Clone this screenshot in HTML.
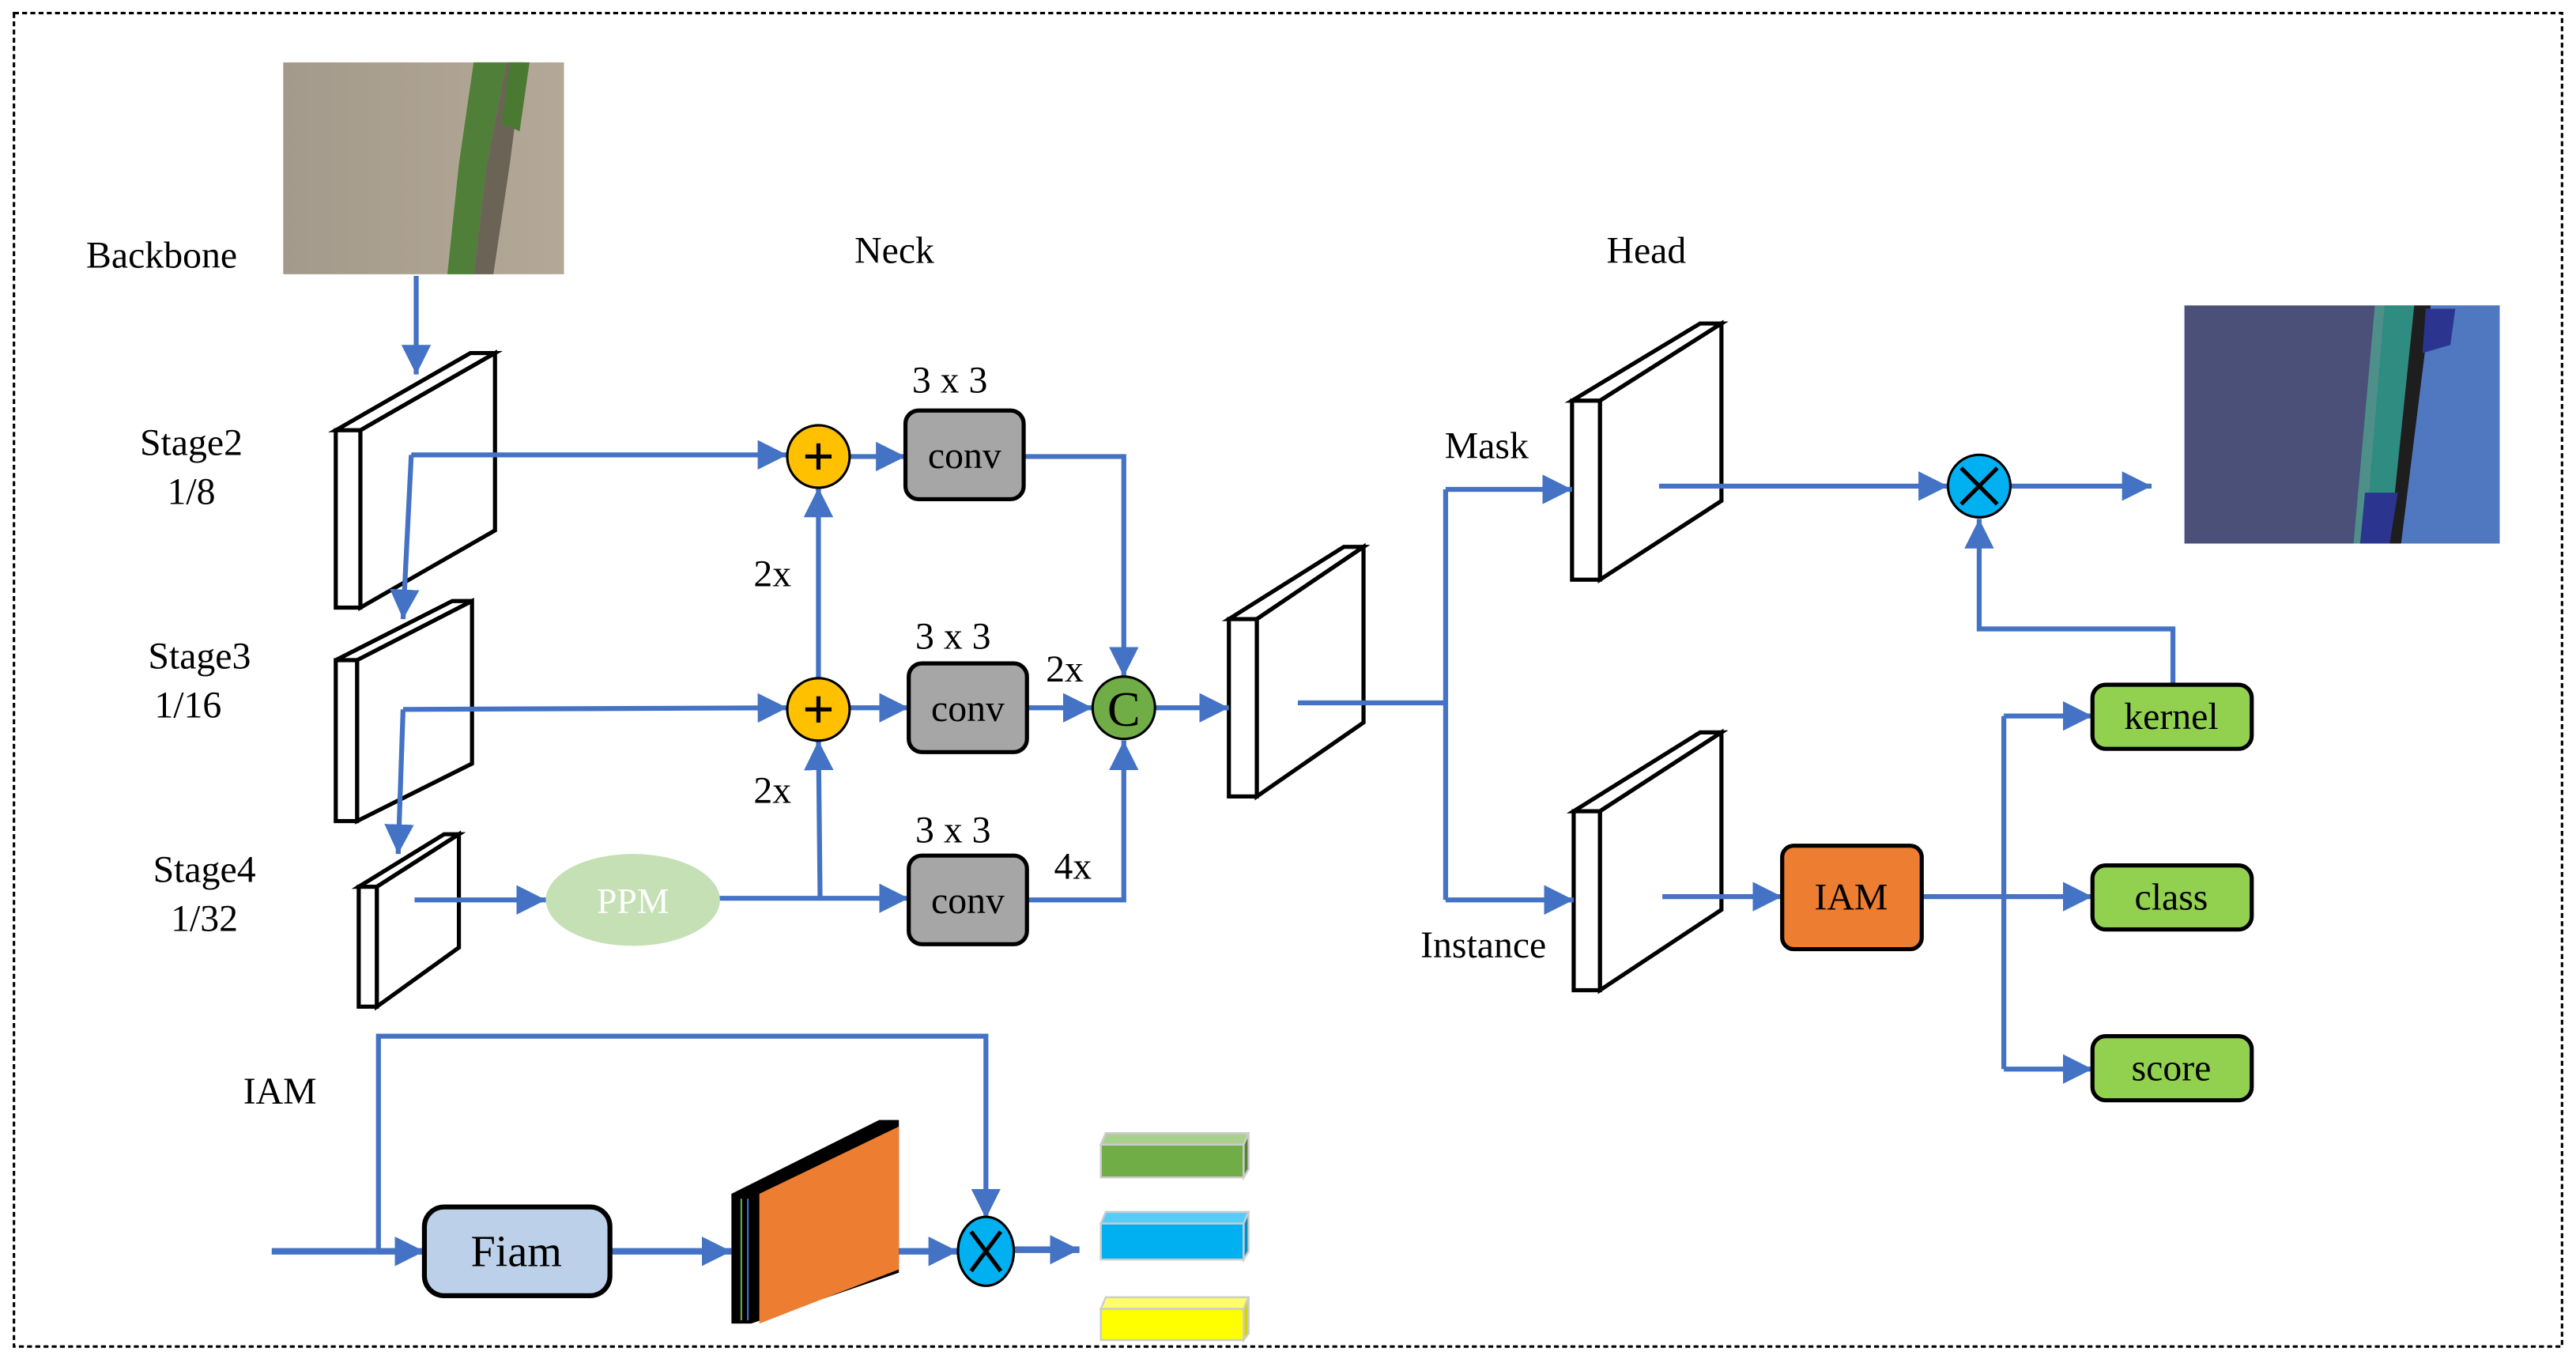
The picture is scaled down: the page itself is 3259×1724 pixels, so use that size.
<!DOCTYPE html>
<html><head><meta charset="utf-8"><style>
html,body{margin:0;padding:0;background:#fff;}
svg{display:block;}
text{font-family:"Liberation Serif",serif;fill:#000;}
</style></head><body>
<svg width="3259" height="1724" viewBox="0 0 1568 830" xmlns="http://www.w3.org/2000/svg">
<defs>
<marker id="a" markerUnits="userSpaceOnUse" markerWidth="20" markerHeight="20" refX="18" refY="9" orient="auto">
<path d="M0,0 L18,9 L0,18 Z" fill="#4472C4"/>
</marker>
<linearGradient id="g1" x1="0" x2="1">
<stop offset="0" stop-color="#a39a8c"/><stop offset="0.6" stop-color="#aea392"/><stop offset="1" stop-color="#b3a897"/>
</linearGradient>
</defs>
<rect x="8" y="8" width="1552" height="812" fill="none" stroke="#000" stroke-width="1.5" stroke-dasharray="3,2"/>

<!-- input image -->
<rect x="172" y="38" width="171" height="129" fill="url(#g1)"/>
<polygon points="288,38 308,38 296,100 288,167 272,167 279,100" fill="#4f7f38"/>
<polygon points="308,38 318,38 310,100 300,167 288,167 296,100" fill="#6b6456"/>
<polygon points="310,38 322,38 316,80 305,75" fill="#4a7a32"/>
<text x="52" y="163" font-size="23">Backbone</text>
<text x="520" y="160" font-size="23">Neck</text>
<text x="978" y="160" font-size="23">Head</text>

<g fill="none" stroke="#4472C4" stroke-width="3">
<line x1="253" y1="168" x2="253" y2="228" marker-end="url(#a)"/>
</g>

<!-- stage blocks -->
<g fill="#fff" stroke="#000" stroke-width="2.5" stroke-linejoin="miter">
<polygon points="204,262 286,215 301,215 219,262"/>
<polygon points="219,262 301,215 301,323 219,370"/>
<rect x="204" y="262" width="15" height="108"/>
<polygon points="204,402 275,366 287,366 217,402"/>
<polygon points="217,402 287,366 287,465 217,500"/>
<rect x="204" y="402" width="13" height="98"/>
<polygon points="218,540 270,508 279,508 229,540"/>
<polygon points="229,540 279,508 279,577 229,613"/>
<rect x="218" y="540" width="11" height="73"/>
<polygon points="748,377 818,333 830,333 765,377"/>
<polygon points="765,377 830,333 830,440 765,485"/>
<rect x="748" y="377" width="17" height="108"/>
<polygon points="957,244 1035,197 1048,197 974,244"/>
<polygon points="974,244 1048,197 1048,305 974,353"/>
<rect x="957" y="244" width="17" height="109"/>
<polygon points="958,494 1035,446 1048,446 974,494"/>
<polygon points="974,494 1048,446 1048,554 974,603"/>
<rect x="958" y="494" width="16" height="109"/>
</g>

<g font-size="23">
<text x="116" y="277" text-anchor="middle">Stage2</text>
<text x="116" y="307" text-anchor="middle">1/8</text>
<text x="121" y="407" text-anchor="middle">Stage3</text>
<text x="114" y="437" text-anchor="middle">1/16</text>
<text x="124" y="537" text-anchor="middle">Stage4</text>
<text x="124" y="567" text-anchor="middle">1/32</text>
<text x="578" y="239" text-anchor="middle">3 x 3</text>
<text x="580" y="395" text-anchor="middle">3 x 3</text>
<text x="580" y="513" text-anchor="middle">3 x 3</text>
<text x="470" y="357" text-anchor="middle">2x</text>
<text x="470" y="489" text-anchor="middle">2x</text>
<text x="648" y="415" text-anchor="middle">2x</text>
<text x="653" y="535" text-anchor="middle">4x</text>
<text x="905" y="279" text-anchor="middle">Mask</text>
<text x="903" y="583" text-anchor="middle">Instance</text>
<text x="170" y="672" text-anchor="middle">IAM</text>
</g>

<!-- connectors -->
<g fill="none" stroke="#4472C4" stroke-width="3">
<line x1="250" y1="277" x2="479" y2="277" marker-end="url(#a)"/>
<line x1="250" y1="277" x2="245" y2="377" marker-end="url(#a)"/>
<line x1="245" y1="432" x2="479" y2="431" marker-end="url(#a)"/>
<line x1="245" y1="432" x2="242" y2="520" marker-end="url(#a)"/>
<line x1="517" y1="278" x2="551" y2="278" marker-end="url(#a)"/>
<line x1="517" y1="431" x2="553" y2="431" marker-end="url(#a)"/>
<line x1="498" y1="413" x2="498" y2="297" marker-end="url(#a)"/>
<line x1="499" y1="547" x2="498" y2="451" marker-end="url(#a)"/>
<polyline points="623,278 684,278 684,412" marker-end="url(#a)"/>
<line x1="625" y1="431" x2="665" y2="431" marker-end="url(#a)"/>
<polyline points="625,548 684,548 684,451" marker-end="url(#a)"/>
<line x1="252" y1="548" x2="332" y2="548" marker-end="url(#a)"/>
<line x1="437" y1="547" x2="553" y2="547" marker-end="url(#a)"/>
<line x1="703" y1="431" x2="748" y2="431" marker-end="url(#a)"/>
<line x1="790" y1="428" x2="880" y2="428"/>
<line x1="880" y1="298" x2="880" y2="548"/>
<line x1="880" y1="298" x2="957" y2="298" marker-end="url(#a)"/>
<line x1="880" y1="548" x2="958" y2="548" marker-end="url(#a)"/>
<line x1="1010" y1="296" x2="1186" y2="296" marker-end="url(#a)"/>
<line x1="1224" y1="296" x2="1310" y2="296" marker-end="url(#a)"/>
<polyline points="1323,417 1323,383 1205,383 1205,316" marker-end="url(#a)"/>
<line x1="1012" y1="546" x2="1085" y2="546" marker-end="url(#a)"/>
<line x1="1170" y1="546" x2="1274" y2="546" marker-end="url(#a)"/>
<line x1="1220" y1="436" x2="1220" y2="651"/>
<line x1="1220" y1="436" x2="1274" y2="436" marker-end="url(#a)"/>
<line x1="1220" y1="651" x2="1274" y2="651" marker-end="url(#a)"/>
<line x1="165" y1="762" x2="258" y2="762" stroke-width="4" marker-end="url(#a)"/>
<polyline points="230,762 230,631 600,631 600,742" marker-end="url(#a)"/>
<line x1="371" y1="762" x2="445" y2="762" stroke-width="4" marker-end="url(#a)"/>
<line x1="493" y1="762" x2="583" y2="762" stroke-width="4" marker-end="url(#a)"/>
<line x1="617" y1="761" x2="657" y2="761" stroke-width="4" marker-end="url(#a)"/>
</g>

<!-- nodes -->
<g stroke="#000" stroke-width="1.5">
<circle cx="498" cy="278" r="19" fill="#FFC000"/>
<circle cx="498" cy="432" r="19" fill="#FFC000"/>
<circle cx="684" cy="431" r="19" fill="#70AD47"/>
<circle cx="1205" cy="296" r="19" fill="#00B0F0"/>
<ellipse cx="600" cy="762" rx="17" ry="21" fill="#00B0F0"/>
</g>
<g stroke="#000" stroke-width="2.5">
<line x1="498" y1="270" x2="498" y2="286"/><line x1="490" y1="278" x2="506" y2="278"/>
<line x1="498" y1="424" x2="498" y2="440"/><line x1="490" y1="432" x2="506" y2="432"/>
<line x1="1194" y1="285" x2="1216" y2="307"/><line x1="1216" y1="285" x2="1194" y2="307"/>
<line x1="591" y1="750" x2="609" y2="774"/><line x1="609" y1="750" x2="591" y2="774"/>
</g>
<text x="684" y="442" font-size="30" text-anchor="middle">C</text>

<g stroke="#000" stroke-width="2.5">
<rect x="551" y="250" width="72" height="54" rx="8" fill="#A6A6A6"/>
<rect x="553" y="404" width="72" height="54" rx="8" fill="#A6A6A6"/>
<rect x="553" y="521" width="72" height="54" rx="8" fill="#A6A6A6"/>
<rect x="1085" y="515" width="85" height="63" rx="7" fill="#ED7D31"/>
<rect x="1274" y="417" width="97" height="39" rx="8" fill="#92D050"/>
<rect x="1274" y="527" width="97" height="39" rx="8" fill="#92D050"/>
<rect x="1274" y="631" width="97" height="39" rx="8" fill="#92D050"/>
<rect x="258" y="735" width="113" height="54" rx="12" fill="#BDD0E9" stroke-width="3"/>
</g>
<g font-size="23" text-anchor="middle">
<text x="587" y="285">conv</text>
<text x="589" y="439">conv</text>
<text x="589" y="556">conv</text>
<text x="1127" y="554">IAM</text>
<text x="1322" y="444">kernel</text>
<text x="1322" y="554">class</text>
<text x="1322" y="658">score</text>
<text x="314" y="771" font-size="27">Fiam</text>
</g>
<ellipse cx="385" cy="548" rx="53" ry="28" fill="#C5E0B4"/>
<text x="385" y="556" font-family="Liberation Sans" font-size="22" text-anchor="middle" style="fill:#fff">PPM</text>

<!-- orange stack -->
<polygon points="445,727 535,682 547,682 547,775 457,806 445,806" fill="#000"/>
<polygon points="462,727 547,686 547,773 462,806" fill="#ED7D31"/>
<line x1="455" y1="730" x2="455" y2="804" stroke="#4472C4" stroke-width="1"/>
<line x1="451" y1="730" x2="451" y2="804" stroke="#70AD47" stroke-width="1"/>

<!-- small colored boxes -->
<g stroke="#ccc" stroke-width="1.2">
<rect x="670" y="697" width="87" height="20" fill="#70AD47"/>
<polygon points="670,697 673,690 760,690 757,697" fill="#A9D18E"/>
<polygon points="757,697 760,690 760,712 757,717" fill="#548235"/>
<rect x="670" y="745" width="87" height="22" fill="#00B0F0"/>
<polygon points="670,745 673,738 760,738 757,745" fill="#56CCF9"/>
<polygon points="757,745 760,738 760,762 757,767" fill="#0090c8"/>
<rect x="670" y="797" width="87" height="19" fill="#FFFF00"/>
<polygon points="670,797 673,790 760,790 757,797" fill="#FFFF66"/>
<polygon points="757,797 760,790 760,812 757,816" fill="#d4d400"/>
</g>

<!-- output image -->
<rect x="1330" y="186" width="192" height="145" fill="#4a5078"/>
<polygon points="1446,186 1452,186 1440,331 1433,331" fill="#4f8f8a"/>
<polygon points="1452,186 1470,186 1455,331 1440,331" fill="#2e8c80"/>
<polygon points="1470,186 1480,186 1462,331 1455,331" fill="#1e1e1e"/>
<polygon points="1480,186 1522,186 1522,331 1462,331" fill="#4f78c0"/>
<polygon points="1477,188 1495,188 1492,210 1475,215" fill="#2b3590"/>
<polygon points="1440,300 1460,300 1455,331 1437,331" fill="#2b3590"/>
</svg>
</body></html>
